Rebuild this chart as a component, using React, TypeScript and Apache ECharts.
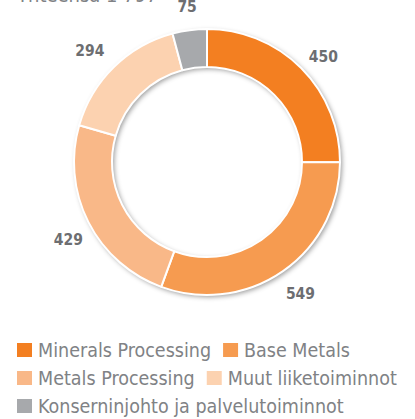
import React, { useEffect, useRef } from "react";
import * as echarts from "echarts";

const categories = [
  "Minerals Processing",
  "Base Metals",
  "Metals Processing",
  "Muut liiketoiminnot",
  "Konserninjohto ja palvelutoiminnot",
];
const values = [450, 549, 429, 294, 75];
const colors = ["#f37f21", "#f69b50", "#f9b888", "#fcd2b0", "#a7a9ac"];
const legendRows = [
  ["Minerals Processing", "Base Metals"],
  ["Metals Processing", "Muut liiketoiminnot"],
  ["Konserninjohto ja palvelutoiminnot"],
];
const titleText = "Yhteensä 1 797";
// small label nudges (px) to match the reference placement
const labelNudges: [number, number][] = [[3, 8], [2, 1], [4, 6], [-5, 3], [1, 4]];

const FONT = "'DejaVu Sans Condensed', 'Liberation Sans Narrow', sans-serif";

export default function App() {
  const ref = useRef<HTMLDivElement>(null);
  useEffect(() => {
    if (!ref.current) return;
    const chart = echarts.init(ref.current, null, { renderer: "svg" });
    const data = categories.map((name, i) => ({
      name,
      value: values[i],
      itemStyle: { color: colors[i] },
    }));
    chart.setOption({
      animation: false,
      graphic: [
        {
          type: "text",
          left: 17,
          top: -15,
          style: {
            text: titleText,
            font: `20px ${FONT}`,
            fill: "#808285",
          },
        },
      ],
      legend: legendRows.map((row, i) => ({
        data: row,
        left: 15,
        top: 339 + i * 28,
        padding: 0,
        itemWidth: 17,
        itemHeight: 16,
        itemGap: 10,
        icon: "rect",
        selectedMode: false,
        textStyle: {
          fontFamily: FONT,
          fontSize: 19.5,
          lineHeight: 22,
          color: "#808285",
        },
      })),
      series: [
        {
          type: "pie",
          name: "shadow",
          center: [207, 162],
          radius: [95, 133],
          silent: true,
          label: { show: false },
          labelLine: { show: false },
          data: [{ value: 1, name: "" }],
          itemStyle: {
            color: "#ffffff",
            shadowBlur: 5,
            shadowOffsetX: 2,
            shadowOffsetY: 2,
            shadowColor: "rgba(0,0,0,0.4)",
          },
        },
        {
          type: "pie",
          name: "main",
          center: [207, 162],
          radius: [95, 133],
          startAngle: 90,
          clockwise: true,
          silent: true,
          label: { show: false },
          labelLine: { show: false },
          itemStyle: { borderColor: "#ffffff", borderWidth: 2 },
          data,
        },
        {
          type: "pie",
          name: "labels",
          center: [207, 162],
          radius: [149, 165],
          startAngle: 90,
          clockwise: true,
          silent: true,
          itemStyle: { color: "rgba(0,0,0,0)", borderWidth: 0 },
          labelLine: { show: false },
          label: {
            show: true,
            position: "inside",
            formatter: "{c}",
            fontFamily: FONT,
            fontWeight: "bold",
            fontSize: 15.5,
            color: "#6d6e71",
          },
          data: categories.map((name, i) => ({
            name,
            value: values[i],
            label: { offset: labelNudges[i] },
          })),
        },
      ],
    });
    return () => chart.dispose();
  }, []);
  return (
    <div
      ref={ref}
      style={{ position: "fixed", left: 0, top: 0, width: 415, height: 419, background: "#fff" }}
    />
  );
}
